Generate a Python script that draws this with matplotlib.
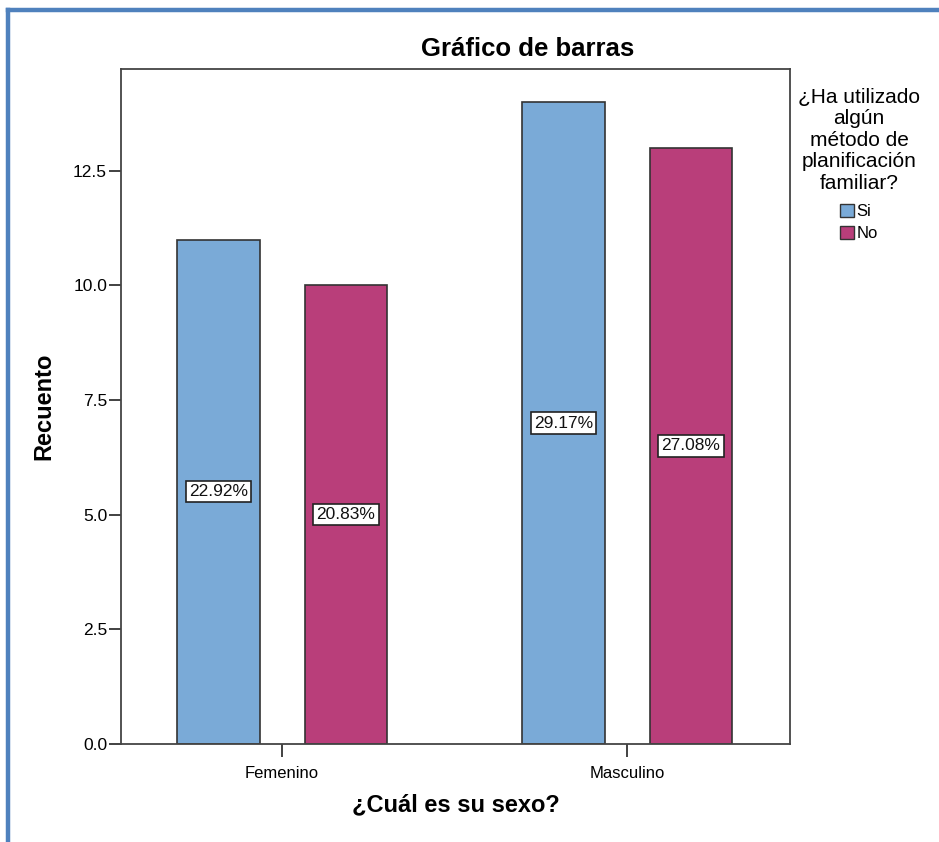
import matplotlib
matplotlib.use("Agg")
import matplotlib.pyplot as plt
from matplotlib.patches import Patch
from matplotlib.lines import Line2D
import numpy as np

plt.rcParams['font.family'] = ['Liberation Sans', 'DejaVu Sans']

categories = ["Femenino", "Masculino"]
series_names = ["Si", "No"]
counts_si = [11, 14]
counts_no = [10, 13]
pct_si = ["22.92%", "29.17%"]
pct_no = ["20.83%", "27.08%"]
yticks = [0.0, 2.5, 5.0, 7.5, 10.0, 12.5]

color_si = "#7AAAD7"
color_no = "#B93E7A"
edge = "#333333"

W, H = 939, 842
fig = plt.figure(figsize=(W / 100, H / 100), dpi=100)

# outer frame: left and top edges only
frame_kw = dict(transform=fig.transFigure, color="#4F81BD", linewidth=3.2,
                solid_capstyle="projecting", zorder=0)
fig.add_artist(Line2D([8 / W, 8 / W], [0.5 / H, 1 - 10 / H], **frame_kw))
fig.add_artist(Line2D([8 / W, 1.0], [1 - 10 / H, 1 - 10 / H], **frame_kw))

ax = fig.add_axes([121 / W, (H - 744) / H, (790 - 121) / W, (744 - 69) / H])

x = np.arange(len(categories))
bw = 0.24
off = 0.185
bars_si = ax.bar(x - off, counts_si, bw, color=color_si, edgecolor=edge, linewidth=1.2)
bars_no = ax.bar(x + off, counts_no, bw, color=color_no, edgecolor=edge, linewidth=1.2)

for bars, vals, labels in [(bars_si, counts_si, pct_si), (bars_no, counts_no, pct_no)]:
    for b, v, lab in zip(bars, vals, labels):
        ax.text(b.get_x() + b.get_width() / 2, v / 2, lab, ha="center", va="center",
                fontsize=12.5, color="#111111",
                bbox=dict(boxstyle="square,pad=0.18", facecolor="white",
                          edgecolor="#222222", linewidth=1.2))

ax.set_xlim(-0.467, 1.472)
ax.set_ylim(0, 14.72)
ax.set_xticks(x)
ax.set_xticklabels(categories, fontsize=12)
ax.set_yticks(yticks)
ax.set_yticklabels([f"{t:.1f}" for t in yticks], fontsize=12.5)
ax.tick_params(axis="both", direction="out", length=9, width=1.3, color="#333333", pad=1)
ax.tick_params(axis="x", pad=7)
for s in ax.spines.values():
    s.set_color("#444444")
    s.set_linewidth(1.3)

ax.set_ylabel("Recuento", fontsize=17, fontweight="bold", labelpad=13)
ax.set_xlabel("¿Cuál es su sexo?", fontsize=17, fontweight="bold", labelpad=9)

fig.text(528 / W, 1 - 49 / H, "Gráfico de barras", ha="center", va="center",
         fontsize=18.5, fontweight="bold")

handles = [Patch(facecolor=color_si, edgecolor=edge, label=series_names[0]),
           Patch(facecolor=color_no, edgecolor=edge, label=series_names[1])]
leg = fig.legend(handles=handles, loc="upper center", bbox_to_anchor=(859 / W, 1 - 76 / H),
                 title="¿Ha utilizado\nalgún\nmétodo de\nplanificación\nfamiliar?",
                 frameon=False, fontsize=12, title_fontsize=15,
                 handlelength=0.8, handleheight=0.8, handletextpad=0.15,
                 labelspacing=0.4, borderpad=0.2)
leg.get_title().set_multialignment("center")
leg.get_title().set_linespacing(1.17)
leg._legend_box.align = "center"
leg._legend_box.sep = 8

fig.savefig("out.png", dpi=100)
